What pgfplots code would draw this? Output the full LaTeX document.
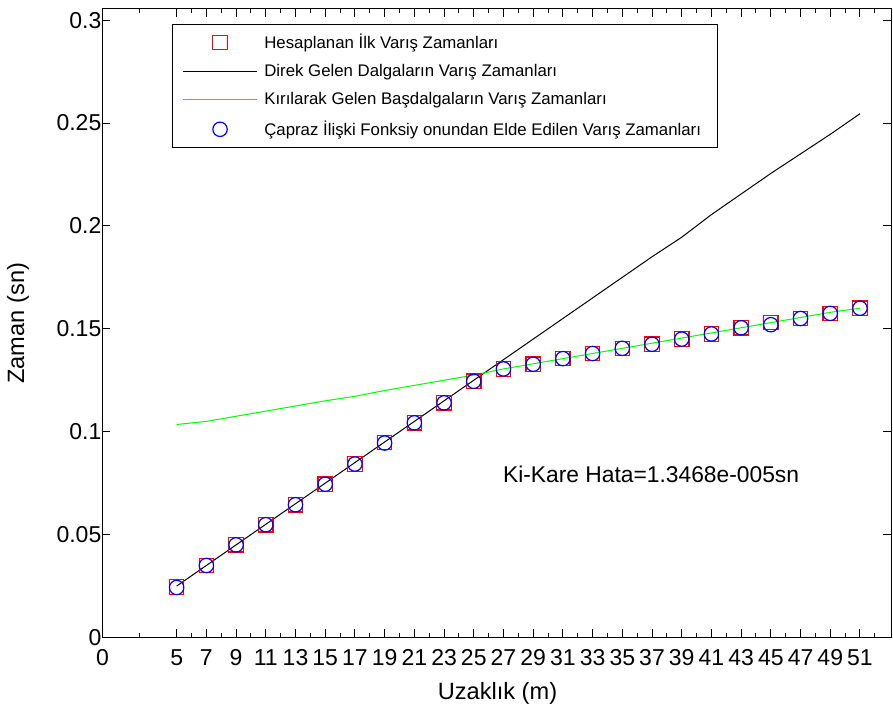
\documentclass[border=0pt]{standalone}
\usepackage{pgfplots}
\pgfplotsset{compat=1.18}
\usepackage{fontspec}
\setmainfont{Liberation Sans}
\begin{document}
\begin{tikzpicture}
\begin{axis}[
  scale only axis,
  width=394.3pt, height=314.25pt,
  xmin=0, xmax=53.09, ymin=0, ymax=0.3054,
  xtick={0,5,7,9,11,13,15,17,19,21,23,25,27,29,31,33,35,37,39,41,43,45,47,49,51},
  minor xtick={2.5,6,8,10,12,14,16,18,20,22,24,26,28,30,32,34,36,38,40,42,44,46,48,50,52},
  ytick={0,0.05,0.1,0.15,0.2,0.25,0.3},
  yticklabels={0,0.05,0.1,0.15,0.2,0.25,0.3},
  scaled y ticks=false,
  tick align=inside,
  major tick length=4pt, minor tick length=2.2pt,
  tick style={black, line width=0.5pt},
  axis line style={line width=0.5pt},
  /pgf/number format/assume math mode=true,
  ticklabel style={font=\fontsize{11.5}{13}\selectfont},
  yticklabel style={xshift=3pt},
  xticklabel style={yshift=-2.5pt},
  xlabel={Uzaklık (m)}, ylabel={Zaman (sn)},
  every axis x label/.style={at={(axis description cs:0.501,-0.0883)}, anchor=center, font=\fontsize{11.8}{13}\selectfont},
  every axis y label/.style={at={(axis description cs:-0.107,0.5)}, anchor=center, rotate=90, font=\fontsize{11.8}{13}\selectfont},
  legend image code/.code={\draw[mark repeat=2,mark phase=2,#1] plot coordinates {(0pt,0pt) (18.5pt,0pt) (37pt,0pt)};},
  legend cell align=left,
  legend style={at={(0.0883,0.976)}, anchor=north west, draw=black, line width=0.5pt,
    font=\fontsize{8.4}{10}\selectfont, inner xsep=5pt, inner ysep=2.5pt, row sep=2.5pt,
    nodes={inner xsep=3.4pt}},
]
\addplot[only marks, mark=square, mark size=3.6pt, red, mark options={line width=0.6pt}] coordinates {
(5,0.0245) (7,0.0350) (9,0.0450) (11,0.0548) (13,0.0645) (15,0.0745) (17,0.0843) (19,0.0948)
(21,0.1043) (23,0.1140) (25,0.1245) (27,0.1305) (29,0.1328) (31,0.1355) (33,0.1380) (35,0.1405)
(37,0.1425) (39,0.1450) (41,0.1475) (43,0.1505) (45,0.1530) (47,0.1550) (49,0.1575) (51,0.1600)};
\addlegendentry{Hesaplanan İlk Varış Zamanları}
\addplot[black, line width=0.5pt] coordinates {
(5,0.025) (7,0.035) (9,0.045) (11,0.055) (13,0.065) (15,0.075) (17,0.085) (19,0.095)
(21,0.105) (23,0.115) (25,0.125) (27,0.135) (29,0.145) (31,0.155) (33,0.165) (35,0.175)
(37,0.185) (39,0.1945) (41,0.2055) (43,0.2155) (45,0.2255) (47,0.235) (49,0.2445) (51,0.2545)};
\addlegendentry{Direk Gelen Dalgaların Varış Zamanları}
\addplot[green, line width=0.5pt] coordinates {
(5,0.1035) (7,0.105) (9,0.1075) (11,0.110) (13,0.1125) (15,0.115) (17,0.1172) (19,0.120)
(21,0.1225) (23,0.125) (25,0.1275) (27,0.1305) (29,0.133) (31,0.1355) (33,0.138) (35,0.1405)
(37,0.143) (39,0.1455) (41,0.148) (43,0.1505) (45,0.153) (47,0.1555) (49,0.158) (51,0.1600)};
\addlegendentry{Kırılarak Gelen Başdalgaların Varış Zamanları}
\addplot[only marks, mark=o, mark size=3.6pt, blue, mark options={line width=0.6pt}] coordinates {
(5,0.0243) (7,0.0350) (9,0.0450) (11,0.0548) (13,0.0645) (15,0.0745) (17,0.0843) (19,0.0945)
(21,0.1043) (23,0.1140) (25,0.1245) (27,0.1305) (29,0.1328) (31,0.1355) (33,0.1380) (35,0.1405)
(37,0.1425) (39,0.1450) (41,0.1475) (43,0.1505) (45,0.1520) (47,0.1550) (49,0.1575) (51,0.1600)};
\addlegendentry{Çapraz İlişki Fonksiy onundan Elde Edilen Varış Zamanları}
\node[anchor=base west, inner sep=0pt, font=\fontsize{11.4}{13}\selectfont] at (axis cs:26.95,0.0751) {Ki-Kare Hata=1.3468e-005sn};
\end{axis}
\pgfresetboundingbox
\useasboundingbox (-51.2pt,-34.25pt) rectangle (395.3pt,318.75pt);
\end{tikzpicture}
\end{document}
